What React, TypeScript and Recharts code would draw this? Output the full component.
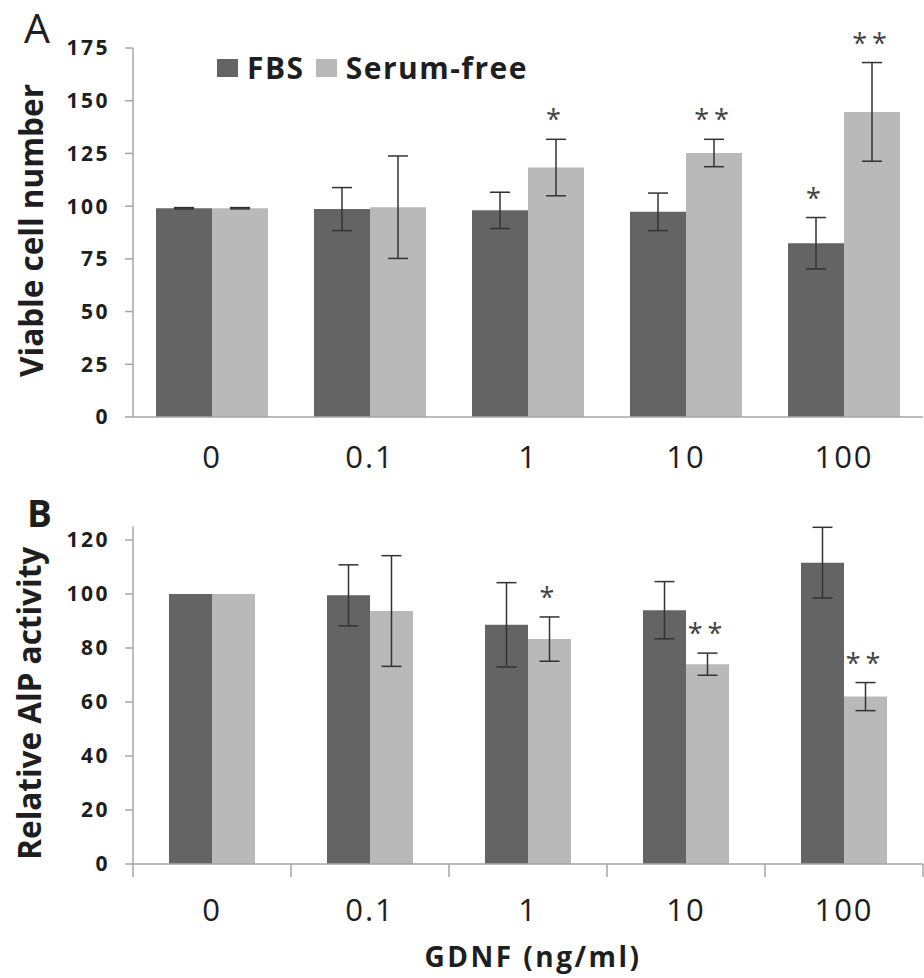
import React from 'react';
import { BarChart, Bar, XAxis, YAxis, ErrorBar, LabelList, Legend, Label, ReferenceLine } from 'recharts';

const doses = ['0', '0.1', '1', '10', '100'];

// panel A - viable cell number
const viableFbs = [99, 98.6, 98, 97.3, 82.4];
const viableFbsErr = [0.3, 10.2, 8.6, 8.9, 12.2];
const viableSerum = [99, 99.5, 118.3, 125.2, 144.7];
const viableSerumErr = [0.3, 24.3, 13.4, 6.5, 23.4];
const viableFbsSig = ['', '', '', '', '*'];
const viableSerumSig = ['', '', '*', '**', '**'];
const viableTicks = [0, 25, 50, 75, 100, 125, 150, 175];

// panel B - relative ALP activity
const alpFbs = [100, 99.5, 88.6, 94, 111.6];
const alpFbsErr = [null, 11.3, 15.6, 10.6, 13.1];
const alpSerum = [100, 93.7, 83.3, 74, 62];
const alpSerumErr = [null, 20.5, 8.2, 4.1, 5.2];
const alpFbsSig = ['', '', '', '', ''];
const alpSerumSig = ['', '', '*', '**', '**'];
const alpTicks = [0, 20, 40, 60, 80, 100, 120];
const edgeTicks = [0, 1, 2, 3, 4, 5];

const DARK = '#646464';
const LIGHT = '#b9b9b9';
const AXIS = '#a6a6a6';
const INK = '#1e1e1e';
const FONT = '"Open Sans", sans-serif';

const build = (
  fbs: number[],
  fbsErr: (number | null)[],
  serum: number[],
  serumErr: (number | null)[],
  fbsSig: string[],
  serumSig: string[]
) =>
  doses.map((dose, i) => ({
    dose,
    edge: i + 0.5,
    fbs: fbs[i],
    fbsErr: fbsErr[i],
    fbsCap: fbsErr[i] ?? 0,
    fbsSig: fbsSig[i],
    serum: serum[i],
    serumErr: serumErr[i],
    serumCap: serumErr[i] ?? 0,
    serumSig: serumSig[i],
  }));

const viableData = build(viableFbs, viableFbsErr, viableSerum, viableSerumErr, viableFbsSig, viableSerumSig);
const alpData = build(alpFbs, alpFbsErr, alpSerum, alpSerumErr, alpFbsSig, alpSerumSig);

const yTick = { fill: INK, fontSize: 21, fontWeight: 700, letterSpacing: 2.5, fontFamily: FONT };
const xTick = { fill: INK, fontSize: 31, letterSpacing: 2, fontFamily: FONT };
const starStyle = { fill: '#444', fontSize: 27, letterSpacing: 5, fontFamily: FONT };

const axisTitle = (text: string, baseX: number, shift: number) => (props: any) => {
  const vb = props.viewBox || { y: 0, height: 0 };
  const cy = vb.y + vb.height / 2 + shift;
  return (
    <text
      x={baseX}
      y={cy}
      transform={`rotate(-90 ${baseX} ${cy})`}
      textAnchor="middle"
      fill={INK}
      fontSize={31.5}
      fontWeight={700}
      fontFamily={FONT}
    >
      {text}
    </text>
  );
};

// short tick hanging under the x axis at a category boundary
const boundaryTick = (props: any) => {
  const x = props.x1 ?? 0;
  const base = Math.max(props.y1 ?? 0, props.y2 ?? 0);
  return <line x1={x} x2={x} y1={base} y2={base + 13} stroke={AXIS} strokeWidth={1.5} />;
};

const renderLegend = () => (
  <div
    style={{
      display: 'flex',
      alignItems: 'center',
      fontFamily: FONT,
      fontWeight: 700,
      fontSize: 30,
      letterSpacing: 1.5,
      lineHeight: 1,
      color: INK,
      whiteSpace: 'nowrap',
    }}
  >
    <span style={{ display: 'inline-block', width: 21, height: 18, background: DARK, marginRight: 9 }} />
    FBS
    <span style={{ display: 'inline-block', width: 21, height: 18, background: LIGHT, marginLeft: 11, marginRight: 9 }} />
    Serum-free
  </div>
);

export default function App() {
  return (
    <div style={{ position: 'absolute', left: 0, top: 0, width: 924, height: 978, background: '#fff' }}>
      <div style={{ position: 'absolute', left: 0, top: 0 }}>
        <BarChart
          width={924}
          height={480}
          data={viableData}
          margin={{ top: 48, right: 1, bottom: 0, left: 0 }}
          barSize={56}
          barGap={0}
        >
          <XAxis
            dataKey="dose"
            height={63}
            interval={0}
            tickLine={false}
            tickSize={6}
            tickMargin={23}
            axisLine={{ stroke: AXIS, strokeWidth: 1.5 }}
            tick={xTick}
          />
          <YAxis
            width={133}
            domain={[0, 175]}
            ticks={viableTicks}
            interval={0}
            allowDataOverflow
            tickSize={8}
            tickMargin={15}
            axisLine={{ stroke: AXIS, strokeWidth: 1.5 }}
            tickLine={{ stroke: AXIS, strokeWidth: 1.5 }}
            tick={yTick}
          >
            <Label content={axisTitle('Viable cell number', 43, -2)} />
          </YAxis>
          <Legend
            layout="horizontal"
            verticalAlign="middle"
            align="center"
            content={renderLegend}
            wrapperStyle={{ top: 53, left: 217, width: 'auto', height: 'auto' }}
          />
          <Bar dataKey="fbs" name="FBS" stackId="f" fill={DARK} isAnimationActive={false}>
            <ErrorBar dataKey="fbsErr" width={10} stroke="#333" strokeWidth={1.5} />
          </Bar>
          <Bar dataKey="fbsCap" stackId="f" fill="transparent" legendType="none" isAnimationActive={false}>
            <LabelList dataKey="fbsSig" position="top" offset={10} style={starStyle} />
          </Bar>
          <Bar dataKey="serum" name="Serum-free" stackId="s" fill={LIGHT} isAnimationActive={false}>
            <ErrorBar dataKey="serumErr" width={10} stroke="#333" strokeWidth={1.5} />
          </Bar>
          <Bar dataKey="serumCap" stackId="s" fill="transparent" legendType="none" isAnimationActive={false}>
            <LabelList dataKey="serumSig" position="top" offset={10} style={starStyle} />
          </Bar>
        </BarChart>
      </div>

      <div style={{ position: 'absolute', left: 0, top: 480 }}>
        <BarChart
          width={924}
          height={498}
          data={alpData}
          margin={{ top: 46.5, right: 1, bottom: 0, left: 0 }}
          barSize={43}
          barGap={0}
        >
          <XAxis
            xAxisId="cat"
            dataKey="dose"
            height={114}
            interval={0}
            tickLine={false}
            axisLine={{ stroke: AXIS, strokeWidth: 1.5 }}
            tickSize={6}
            tickMargin={29}
            tick={xTick}
          >
            <Label
              value="GDNF (ng/ml)"
              position="insideBottom"
              offset={11}
              dx={5}
              style={{ fill: INK, fontSize: 28, fontWeight: 700, letterSpacing: 2.5, fontFamily: FONT }}
            />
          </XAxis>
          {/* hidden numeric axis spanning the five bands, used for the boundary ticks */}
          <XAxis xAxisId="edge" type="number" dataKey="edge" domain={[0, 5]} allowDataOverflow hide />
          <YAxis
            width={133}
            domain={[0, 125]}
            ticks={alpTicks}
            interval={0}
            allowDataOverflow
            tickSize={8}
            tickMargin={15}
            axisLine={{ stroke: AXIS, strokeWidth: 1.5 }}
            tickLine={{ stroke: AXIS, strokeWidth: 1.5 }}
            tick={yTick}
          >
            <Label content={axisTitle('Relative AlP activity', 41, 8)} />
          </YAxis>
          {edgeTicks.map((t) => (
            <ReferenceLine key={t} xAxisId="edge" x={t} ifOverflow="visible" shape={boundaryTick} />
          ))}
          <Bar xAxisId="cat" dataKey="fbs" stackId="f" fill={DARK} isAnimationActive={false}>
            <ErrorBar dataKey="fbsErr" width={10} stroke="#333" strokeWidth={1.5} />
          </Bar>
          <Bar xAxisId="cat" dataKey="fbsCap" stackId="f" fill="transparent" legendType="none" isAnimationActive={false}>
            <LabelList dataKey="fbsSig" position="top" offset={10} style={starStyle} />
          </Bar>
          <Bar xAxisId="cat" dataKey="serum" stackId="s" fill={LIGHT} isAnimationActive={false}>
            <ErrorBar dataKey="serumErr" width={10} stroke="#333" strokeWidth={1.5} />
          </Bar>
          <Bar xAxisId="cat" dataKey="serumCap" stackId="s" fill="transparent" legendType="none" isAnimationActive={false}>
            <LabelList dataKey="serumSig" position="top" offset={10} style={starStyle} />
          </Bar>
        </BarChart>
      </div>

      <svg width={924} height={978} style={{ position: 'absolute', left: 0, top: 0, pointerEvents: 'none' }}>
        <text x={24} y={43} fontSize={41} fontFamily={FONT} fill={INK}>
          A
        </text>
        <text x={27} y={527} fontSize={37} fontWeight={700} fontFamily={FONT} fill={INK}>
          B
        </text>
      </svg>
    </div>
  );
}
